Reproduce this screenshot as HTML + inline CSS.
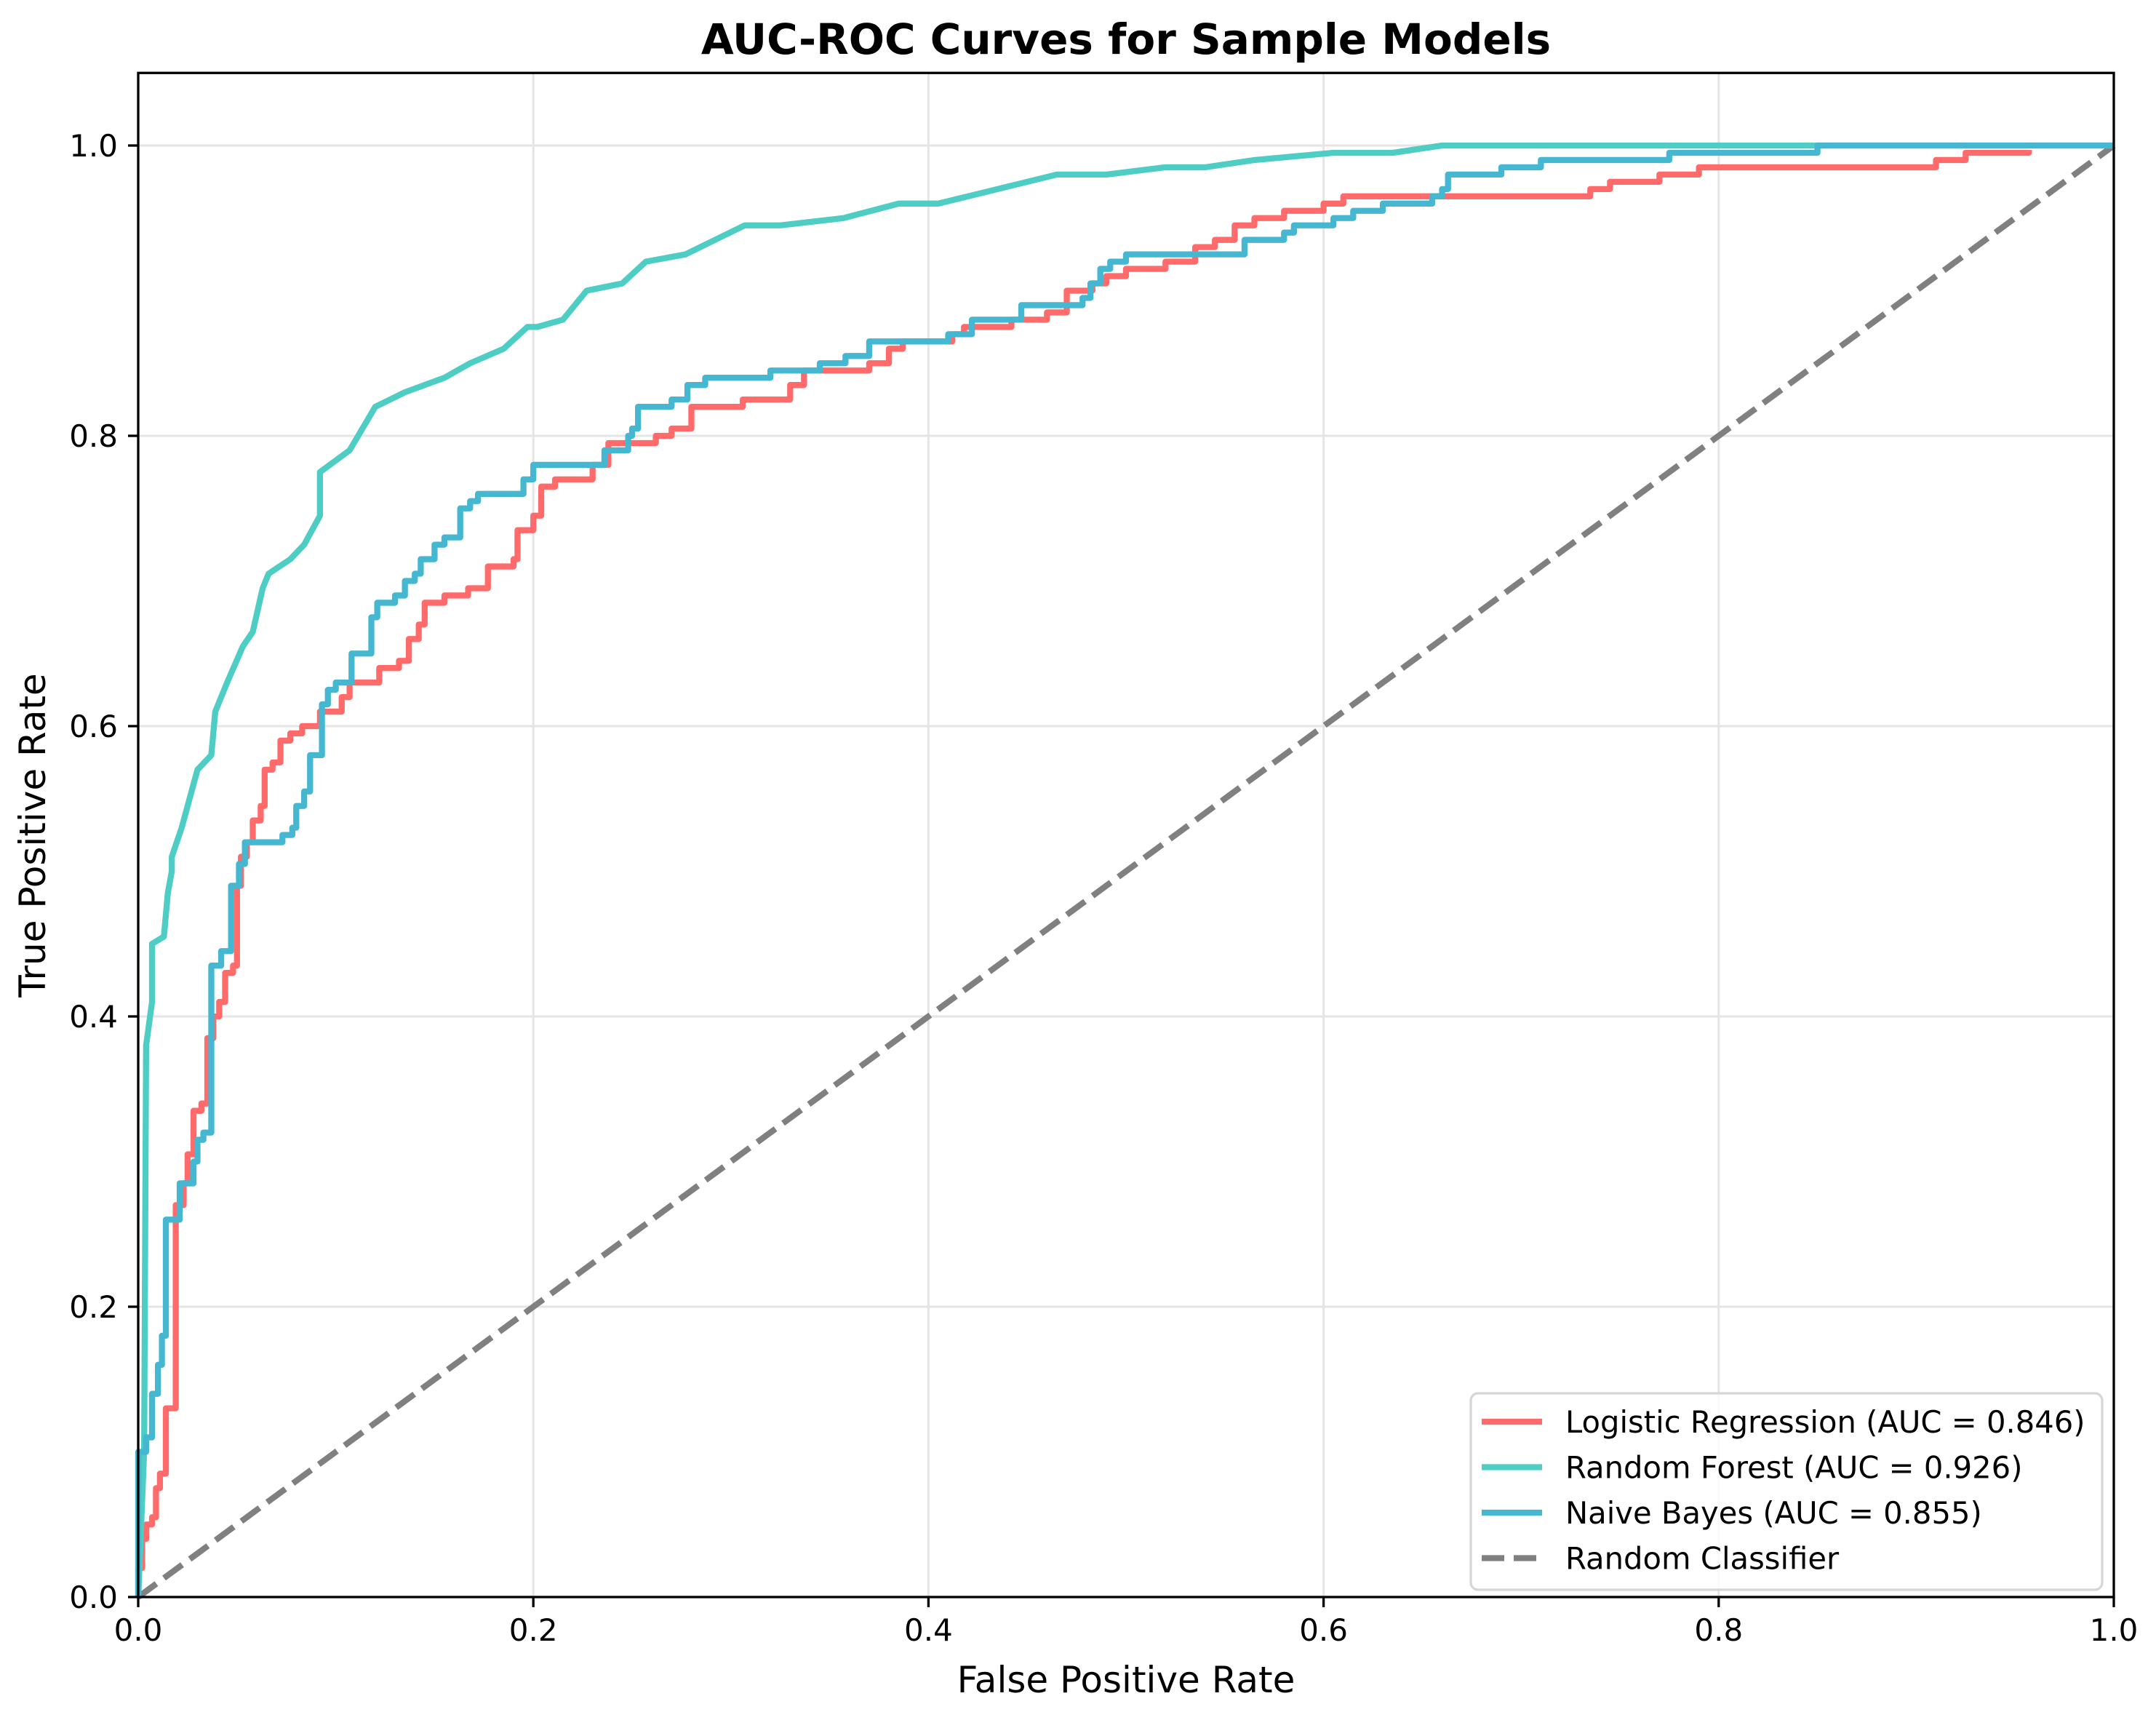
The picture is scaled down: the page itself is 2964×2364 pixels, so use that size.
<!DOCTYPE html>
<html><head><meta charset="utf-8"><style>
html,body{margin:0;padding:0;background:#fff}
svg{display:block;font-family:"DejaVu Sans","Liberation Sans",sans-serif}
</style></head><body>
<svg id="chart" width="2964" height="2364" viewBox="0 0 2964 2364" xmlns="http://www.w3.org/2000/svg">
<rect width="2964" height="2364" fill="#fff"/>
<g id="grid"></g>
<g id="series"></g>
<g id="axes"></g>
<text x="1548" y="74" text-anchor="middle" font-size="58" font-weight="bold">AUC-ROC Curves for Sample Models</text>
<text x="1548" y="2326" text-anchor="middle" font-size="50">False Positive Rate</text>
<text x="0" y="0" transform="translate(62,1148) rotate(-90)" text-anchor="middle" font-size="50">True Positive Rate</text>
<g id="legend"></g>
</svg>
<script>
const xTicks = [0, 0.2, 0.4, 0.6, 0.8, 1.0];
const yTicks = [0, 0.2, 0.4, 0.6, 0.8, 1.0];
const tickLabels = ["0.0", "0.2", "0.4", "0.6", "0.8", "1.0"];
const seriesNames = ["Logistic Regression (AUC = 0.846)", "Random Forest (AUC = 0.926)", "Naive Bayes (AUC = 0.855)", "Random Classifier"];
const lrFpr = [0,0,0.002,0.004,0.007,0.009,0.011,0.014,0.014,0.019,0.019,0.023,0.025,0.028,0.032,0.035,0.038,0.041,0.044,0.048,0.05,0.052,0.055,0.058,0.062,0.064,0.068,0.072,0.077,0.083,0.092,0.103,0.107,0.122,0.132,0.137,0.142,0.145,0.155,0.167,0.177,0.19,0.192,0.2,0.204,0.211,0.23,0.238,0.262,0.27,0.28,0.306,0.33,0.337,0.37,0.38,0.387,0.412,0.418,0.442,0.46,0.47,0.483,0.49,0.5,0.52,0.535,0.545,0.555,0.565,0.58,0.6,0.61,0.73,0.735,0.745,0.77,0.79,0.91,0.925,0.957];
const lrTpr = [0,0.02,0.04,0.05,0.055,0.075,0.085,0.085,0.13,0.13,0.27,0.285,0.305,0.335,0.34,0.385,0.4,0.41,0.43,0.435,0.49,0.51,0.52,0.535,0.545,0.57,0.575,0.59,0.595,0.6,0.61,0.62,0.63,0.64,0.645,0.66,0.67,0.685,0.69,0.695,0.71,0.715,0.735,0.745,0.765,0.77,0.78,0.795,0.8,0.805,0.82,0.825,0.835,0.845,0.85,0.86,0.865,0.87,0.875,0.88,0.885,0.9,0.905,0.91,0.915,0.92,0.93,0.935,0.945,0.95,0.955,0.96,0.965,0.965,0.97,0.975,0.98,0.985,0.99,0.995,0.997];
const rfFpr = [0,0.003,0.004,0.007,0.007,0.013,0.015,0.017,0.017,0.022,0.03,0.037,0.039,0.045,0.053,0.058,0.063,0.066,0.077,0.084,0.092,0.092,0.107,0.12,0.135,0.155,0.168,0.185,0.197,0.202,0.215,0.227,0.245,0.257,0.277,0.307,0.325,0.357,0.385,0.405,0.435,0.465,0.49,0.52,0.54,0.565,0.605,0.635,0.66,1.0];
const rfTpr = [0,0.10,0.38,0.41,0.45,0.455,0.485,0.50,0.51,0.53,0.57,0.58,0.61,0.63,0.655,0.665,0.695,0.705,0.715,0.725,0.745,0.775,0.79,0.82,0.83,0.84,0.85,0.86,0.875,0.875,0.88,0.90,0.905,0.92,0.925,0.945,0.945,0.95,0.96,0.96,0.97,0.98,0.98,0.985,0.985,0.99,0.995,0.995,1.0,1.0];
const nbFpr = [0,0,0.004,0.007,0.01,0.012,0.014,0.02,0.021,0.028,0.03,0.033,0.037,0.042,0.047,0.051,0.054,0.073,0.078,0.08,0.084,0.087,0.093,0.096,0.1,0.108,0.118,0.121,0.13,0.135,0.14,0.143,0.15,0.155,0.163,0.168,0.172,0.195,0.2,0.236,0.248,0.25,0.253,0.27,0.278,0.287,0.32,0.345,0.358,0.37,0.41,0.422,0.445,0.447,0.478,0.482,0.487,0.492,0.5,0.54,0.56,0.58,0.585,0.605,0.615,0.63,0.655,0.66,0.663,0.69,0.71,0.775,0.85,1.0];
const nbTpr = [0,0.10,0.11,0.14,0.16,0.18,0.26,0.26,0.285,0.3,0.315,0.32,0.435,0.445,0.49,0.505,0.52,0.525,0.53,0.545,0.555,0.58,0.615,0.625,0.63,0.65,0.675,0.685,0.69,0.7,0.705,0.715,0.725,0.73,0.75,0.755,0.76,0.77,0.78,0.79,0.8,0.805,0.82,0.825,0.835,0.84,0.845,0.85,0.855,0.865,0.87,0.88,0.88,0.89,0.895,0.905,0.915,0.92,0.925,0.925,0.935,0.94,0.945,0.95,0.955,0.96,0.965,0.97,0.98,0.985,0.99,0.995,1.0,1.0];
const diagX = [0, 1];
const diagY = [0, 1];

const NS = "http://www.w3.org/2000/svg";
const X0 = 190, X1 = 2906, Y0 = 2195, YU = 1995;
function sx(v){ return X0 + v*(X1-X0); }
function sy(v){ return Y0 - v*YU; }
function mk(tag, attrs, parent){ const e = document.createElementNS(NS, tag); for (const k in attrs) e.setAttribute(k, attrs[k]); parent.appendChild(e); return e; }

const grid = document.getElementById('grid');
const axes = document.getElementById('axes');
xTicks.forEach((t,i)=>{
  const g = mk('line',{x1:sx(t),x2:sx(t),y1:sy(1.05),y2:Y0,stroke:'#e5e5e5','stroke-width':3},grid);
  
  
  const tk = mk('line',{x1:sx(t),x2:sx(t),y1:Y0,y2:Y0+14,stroke:'#000','stroke-width':3.3},axes);
  
  
  const tl = mk('text',{x:sx(t),y:Y0+60,'text-anchor':'middle','font-size':42},axes);
  tl.textContent = tickLabels[i];
  
  
});
yTicks.forEach((t,i)=>{
  const g = mk('line',{x1:X0,x2:X1,y1:sy(t),y2:sy(t),stroke:'#e5e5e5','stroke-width':3},grid);
  
  
  const tk = mk('line',{x1:X0-14,x2:X0,y1:sy(t),y2:sy(t),stroke:'#000','stroke-width':3.3},axes);
  
  
  const tl = mk('text',{x:X0-28,y:sy(t)+15,'text-anchor':'end','font-size':42},axes);
  tl.textContent = tickLabels[i];
  
  
});
const frame = mk('rect',{x:X0,y:sy(1.05),width:X1-X0,height:Y0-sy(1.05),fill:'none',stroke:'#000','stroke-width':3.3},axes);



const ser = document.getElementById('series');
function stepPath(xs, ys){
  let d = 'M'+sx(xs[0])+','+sy(ys[0]);
  for (let i=1;i<xs.length;i++){ d += ' L'+sx(xs[i])+','+sy(ys[i-1])+' L'+sx(xs[i])+','+sy(ys[i]); }
  return d;
}
function linePath(xs, ys){
  return xs.map((x,i)=>(i?'L':'M')+sx(x)+','+sy(ys[i])).join(' ');
}
const colors = ['#ff6b6b','#4ecdc4','#45b7d1','#808080'];
const diag = mk('path',{d:linePath(diagX,diagY),fill:'none',stroke:colors[3],'stroke-width':8.3,'stroke-dasharray':'31,13'},ser);


const lr = mk('path',{d:stepPath(lrFpr,lrTpr),fill:'none',stroke:colors[0],'stroke-width':8.3,'stroke-linejoin':'round'},ser);


const rf = mk('path',{d:linePath(rfFpr,rfTpr),fill:'none',stroke:colors[1],'stroke-width':8.3,'stroke-linejoin':'round'},ser);


const nb = mk('path',{d:stepPath(nbFpr,nbTpr),fill:'none',stroke:colors[2],'stroke-width':8.3,'stroke-linejoin':'round'},ser);



const leg = document.getElementById('legend');
const box = mk('rect',{x:2022,y:1915,width:868,height:270,rx:10,fill:'#fff','fill-opacity':0.8,stroke:'#d6d6d6','stroke-width':3.3},leg);


seriesNames.forEach((n,i)=>{
  const y = 1954 + i*62.5;
  const h = mk('line',{x1:2037,x2:2120,y1:y,y2:y,stroke:colors[i],'stroke-width':8.3,'stroke-dasharray':i===3?'31,13':'none'},leg);
  
  
  const t = mk('text',{x:2152,y:y+15,'font-size':41.7},leg);
  t.textContent = n;
  
  
});
</script>
</body></html>
